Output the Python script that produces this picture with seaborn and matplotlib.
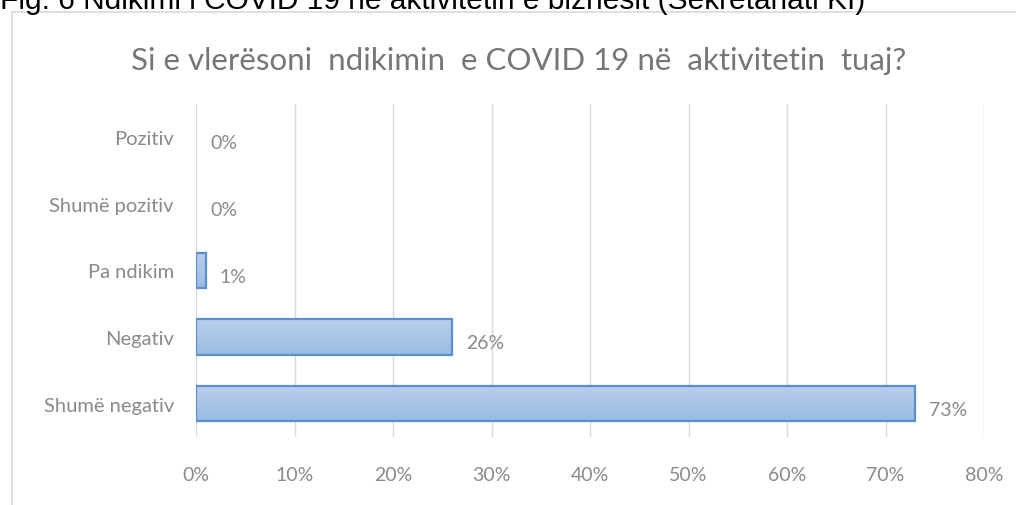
import numpy as np
import pandas as pd
import seaborn as sns
import matplotlib.pyplot as plt
from matplotlib.patches import Rectangle
from matplotlib.colors import LinearSegmentedColormap

categories = ['Pozitiv', 'Shumë pozitiv', 'Pa ndikim', 'Negativ', 'Shumë negativ']
values = [0, 0, 1, 26, 73]
xticks = [0, 10, 20, 30, 40, 50, 60, 70, 80]

df = pd.DataFrame({'kategoria': categories, 'perqindja': values})

sns.set_theme(style='white')
plt.rcParams['font.family'] = ['Lato', 'DejaVu Sans']

fig = plt.figure(figsize=(10.16, 5.06), dpi=100)
ax = fig.add_axes([196/1016, 68/506, 788/1016, 333/506])

sns.barplot(data=df, x='perqindja', y='kategoria', orient='h', order=categories,
            color='#a9c4e8', edgecolor='#5b8fd0', linewidth=1.6, width=0.53,
            saturation=1, ax=ax)

# gradient si ne Excel
grad = LinearSegmentedColormap.from_list('g', ['#b9cfeb', '#9bbbe4'])
for p in ax.patches:
    if p.get_width() == 0:
        p.set_visible(False)
        continue
    x0, y0 = p.get_x(), p.get_y()
    im = ax.imshow(np.linspace(0, 1, 50).reshape(-1, 1), cmap=grad, aspect='auto',
                   extent=[x0, x0 + p.get_width(), y0 + p.get_height(), y0],
                   origin='upper', zorder=p.get_zorder() + 0.1)
    im.set_clip_path(p)
    p.set_facecolor('none')
    p.set_zorder(p.get_zorder() + 0.2)

ax.set_xlim(0, 80)
ax.set_ylim(len(categories) - 0.5, -0.5)
ax.set_xticks(xticks)
ax.set_xticklabels([f'{t}%' for t in xticks])
ax.xaxis.grid(True, color='#d9d9d9', linewidth=1)
ax.set_axisbelow(True)
for s in ax.spines.values():
    s.set_visible(False)
ax.tick_params(axis='x', length=0, pad=21, labelsize=14, labelcolor='#8a8a8a')
ax.tick_params(axis='y', length=0, pad=16, labelsize=14.5, labelcolor='#8a8a8a')
ax.set_xlabel('')
ax.set_ylabel('')

for i, v in enumerate(values):
    ax.annotate(f'{v}%', (v, i), xytext=(10, -4), textcoords='offset points',
                ha='left', va='center', fontsize=14, color='#8a8a8a')

fig.text(519/1016, 1 - 61/506, 'Si e vlerësoni  ndikimin  e COVID 19 në  aktivitetin  tuaj?',
         ha='center', va='center', fontsize=22.5, color='#767676')

# kuti e grafikut
fig.patches.append(Rectangle((12/1016, -0.1), 1.1, 1 - 13/506 + 0.1,
                             transform=fig.transFigure, fill=False,
                             edgecolor='#d9d9d9', linewidth=1.2))

fig.text(0.0, 1 - 9/506, 'Fig. 6 Ndikimi i COVID 19 në aktivitetin e biznesit (Sekretariati KI)',
         ha='left', va='baseline', fontsize=21.5, color='black',
         family=['Liberation Sans', 'DejaVu Sans'])

fig.savefig('out.png', dpi=100)
